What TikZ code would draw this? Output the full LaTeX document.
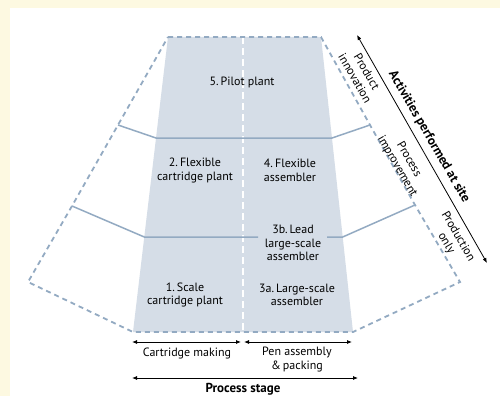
\documentclass[tikz,border=0pt]{standalone}
\usepackage{fontspec}
\setmainfont{PT Sans}
\usetikzlibrary{arrows.meta}
\definecolor{cream}{HTML}{FDF9E1}
\definecolor{stagefill}{HTML}{D5DDE7}
\definecolor{edge}{HTML}{93AAC2}
\begin{document}
\begin{tikzpicture}[x=1pt,y=-1pt,
  outline/.style={edge, line width=1.8pt, dash pattern=on 5pt off 4pt},
  divider/.style={edge, line width=1.5pt},
  split/.style={white, line width=1.5pt, dash pattern=on 7pt off 4pt},
  lbl/.style={align=center, font=\fontsize{12}{13.5}\selectfont, inner sep=0.5pt},
  boldlbl/.style={lbl, font=\bfseries\fontsize{13}{14}\selectfont},
  sidelbl/.style={lbl, rotate=-60},
  tip/.tip={Latex[length=5pt,width=4pt]},
  span/.style={tip-tip, line width=0.8pt},
]
\useasboundingbox (0,0) rectangle (500,396);
\fill[cream] (0,0) rectangle (500,396);
\fill[white] (10,8) rectangle (500,396);

% corners of the central stage block
\coordinate (tl) at (168,37);
\coordinate (tr) at (321,37);
\coordinate (br) at (353,332);
\coordinate (bl) at (133,332);
% corners of the dashed outline
\coordinate (l1) at (118,125);
\coordinate (l2) at (72,206);
\coordinate (l3) at (28,282);
\coordinate (r1) at (370,125);
\coordinate (r2) at (415,205);
\coordinate (r3) at (460,282);
% divider line points on the block edges
\coordinate (d1l) at (156,138);
\coordinate (d1r) at (332,138);
\coordinate (d2l) at (144.3,237);
\coordinate (d2a) at (258,237);
\coordinate (d2b) at (327,237);
\coordinate (d2r) at (342.7,237);
\coordinate (mt) at (243,37);
\coordinate (mb) at (243,332);

\fill[stagefill] (tl) -- (tr) -- (br) -- (bl) -- cycle;
\draw[split] (mt) -- (mb);

\draw[divider] (l1) -- (d1l) -- (d1r) -- (r1);
\draw[divider] (l2) -- (d2l) -- (d2a);
\draw[divider] (d2b) -- (d2r) -- (r2);

\draw[outline] (tl) -- (tr) -- (r1) -- (r2) -- (r3) -- (br) -- (bl) -- (l3) -- (l2) -- (l1) -- cycle;

% stage labels
\node[lbl] (n5) at (242,82) {5.\,Pilot plant};
\node[lbl] (n2) at (195,170.5) {2.\,Flexible\\cartridge plant};
\node[lbl] (n4) at (290,170.5) {4.\,Flexible\\assembler};
\node[lbl] (n3b) at (293,243) {3b.\,Lead\\large-scale\\assembler};
\node[lbl] (n1) at (185,295) {1.\,Scale\\cartridge plant};
\node[lbl] (n3a) at (297,295) {3a.\,Large-scale\\assembler};

% activity axis
\coordinate (at) at (357,35);
\coordinate (ab) at (487,263);
\draw[span] (at) -- (ab);
\node[boldlbl, rotate=-60] (act) at (429,137) {Activities performed at site};
\node[sidelbl] (pi) at (361,75) {Product\\innovation};
\node[sidelbl] (pr) at (403,163) {Process\\improvement};
\node[sidelbl] (po) at (452,240) {Production\\only};

% process stage axis
\coordinate (c1) at (132,342);
\coordinate (c2) at (241,342);
\coordinate (p1) at (244,342);
\coordinate (p2) at (352,342);
\coordinate (s1) at (132,378);
\coordinate (s2) at (358,378);
\draw[span] (c1) -- (c2);
\draw[span] (p1) -- (p2);
\draw[span] (s1) -- (s2);
\node[lbl] (cm) at (187,353) {Cartridge making};
\node[lbl] (pa) at (297,359.5) {Pen assembly\\\&\,packing};
\node[boldlbl] (ps) at (243,389) {Process stage};
\end{tikzpicture}
\end{document}
